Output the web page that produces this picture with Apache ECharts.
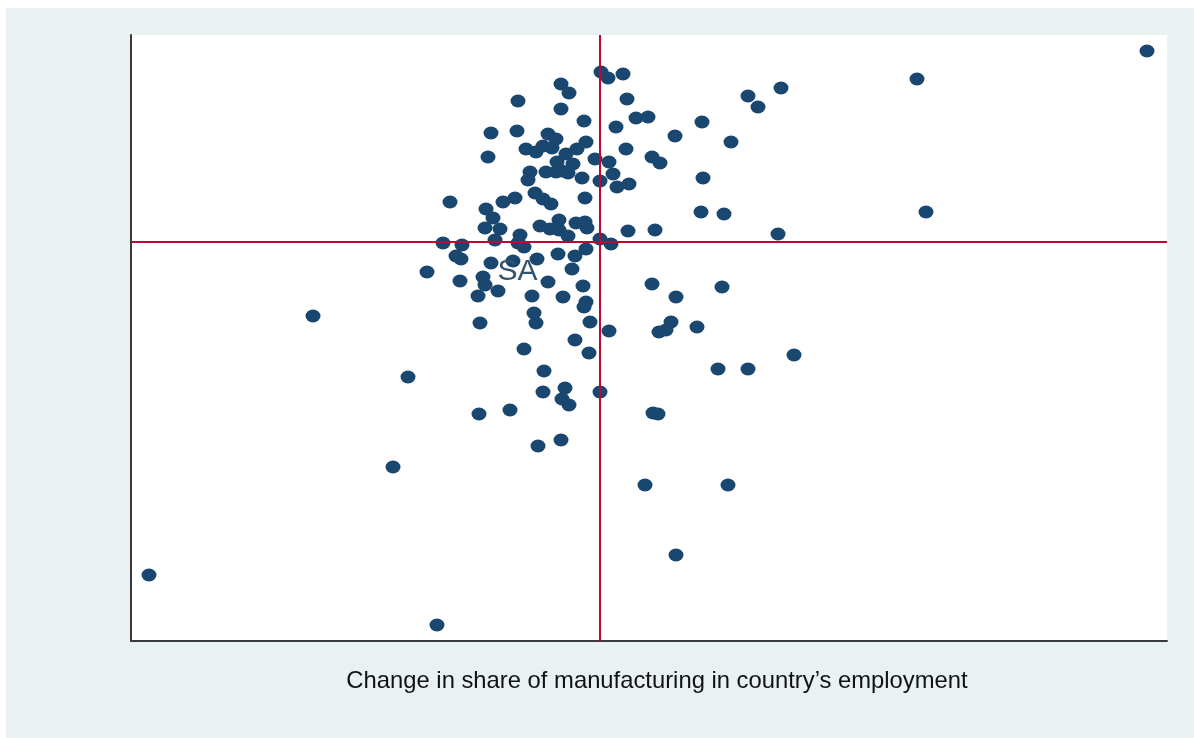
<!DOCTYPE html>
<html>
<head>
<meta charset="utf-8">
<script src="https://cdn.jsdelivr.net/npm/echarts@6/dist/echarts.min.js"></script>
<style>
  html, body { margin: 0; padding: 0; background: #ffffff; }
  #chart { position: absolute; left: 6px; top: 8px; width: 1188px; height: 730px; }
</style>
</head>
<body>
<div id="chart"></div>
<script>
// Change in share of manufacturing (x) vs outcome (y); reference lines at 0
const xValues = [
  5.47, 3.17, 1.81, 1.48, 1.58, 0.01, 0.08, 0.23, -0.39, -0.31,
  0.27, -0.82, -0.39, 0.36, 0.48, -0.16, 0.16, 1.02, -1.09, -0.83,
  0.75, 1.31, -0.52, -0.44, -0.14, -0.74, -0.64, -0.57, -0.48, 0.26,
  -0.23, -1.12, -0.34, -0.05, 0.09, 0.52, 0.60, -0.43, -0.27, -0.54,
  -0.44, -0.38, -0.32, -0.70, -0.72, 0.13, -0.18, 0.00, 0.17, 0.29,
  1.03, -0.65, -0.57, -0.49, -0.85, -0.97, -1.50, -1.14, -1.07, -0.15,
  1.01, 1.24, 3.26, -0.41, -0.60, -0.50, -0.41, -0.24, -0.15, -0.13,
  -1.15, -1.00, -0.32, 0.28, 0.55, -1.05, -0.80, -0.82, -0.76, 0.00,
  0.11, 1.78, -1.57, -1.38, -1.44, -1.39, -0.14, -0.42, -0.25, -0.63,
  -0.87, -1.09, -1.73, -1.17, -0.28, -1.40, -1.15, -0.52, -1.02, -1.22,
  0.52, 0.76, 1.22, -0.17, -0.68, -0.37, -0.14, -0.16, -0.66, -0.64,
  -2.87, -1.20, -0.10, 0.09, 0.71, 0.66, 0.59, 0.97, -0.25, -0.76,
  -0.11, 1.94, 1.18, 1.48, -0.56, -1.92, -0.35, -0.57, -0.38, -0.31,
  0.00, -0.90, -1.21, 0.53, 0.58, -0.39, -0.62, -2.07, 0.45, 1.28,
  0.76, -4.51, -1.63
];
const yValues = [
  1.91, 1.63, 1.54, 1.46, 1.35, 1.70, 1.64, 1.68, 1.58, 1.49,
  1.43, 1.41, 1.33, 1.24, 1.25, 1.21, 1.15, 1.20, 1.09, 1.11,
  1.06, 1.00, 1.08, 1.03, 1.00, 0.93, 0.90, 0.96, 0.94, 0.93,
  0.93, 0.85, 0.88, 0.83, 0.80, 0.85, 0.79, 0.80, 0.78, 0.70,
  0.70, 0.71, 0.69, 0.70, 0.62, 0.68, 0.64, 0.61, 0.55, 0.58,
  0.64, 0.49, 0.43, 0.38, 0.44, 0.40, 0.40, 0.33, 0.24, 0.44,
  0.30, 0.28, 0.30, 0.22, 0.16, 0.13, 0.12, 0.19, 0.20, 0.14,
  0.14, 0.13, 0.06, 0.11, 0.12, 0.02, 0.07, -0.01, -0.05, 0.03,
  -0.02, 0.08, -0.01, -0.03, -0.14, -0.17, -0.07, -0.12, -0.14, -0.17,
  -0.19, -0.21, -0.30, -0.35, -0.27, -0.39, -0.43, -0.40, -0.49, -0.54,
  -0.42, -0.55, -0.45, -0.44, -0.54, -0.55, -0.60, -0.65, -0.71, -0.81,
  -0.74, -0.81, -0.80, -0.89, -0.80, -0.88, -0.90, -0.85, -0.98, -1.07,
  -1.11, -1.13, -1.27, -1.27, -1.29, -1.35, -1.46, -1.50, -1.57, -1.63,
  -1.50, -1.68, -1.72, -1.71, -1.72, -1.98, -2.04, -2.25, -2.43, -2.43,
  -3.13, -3.33, -3.83
];
const labelText = ['SA'];
const labelIndex = [91];
const refX = [0];
const refY = [0];
const xTitle = 'Change in share of manufacturing in country\u2019s employment';
const xRange = [-4.69, 5.67];
const yRange = [-3.99, 2.07];

const MARK = '#1a476f';
const REF = '#c10534';

const points = xValues.map(function (x, i) {
  const k = labelIndex.indexOf(i);
  const item = { value: [x, yValues[i]] };
  if (k >= 0) {
    item.label = {
      show: true,
      formatter: labelText[k],
      position: 'right',
      distance: -1,
      offset: [0, 9],
      color: '#34536f',
      fontSize: 30,
      fontFamily: 'Liberation Sans, Arial, sans-serif'
    };
  }
  return item;
});

const chart = echarts.init(document.getElementById('chart'), null, { renderer: 'canvas' });
chart.setOption({
  backgroundColor: '#e9f1f3',
  animation: false,
  grid: { left: 125, right: 27, top: 27, bottom: 97, show: true, backgroundColor: '#ffffff', borderWidth: 0 },
  xAxis: {
    type: 'value', min: xRange[0], max: xRange[1],
    name: xTitle, nameLocation: 'middle', nameGap: 28,
    nameTextStyle: { color: '#111111', fontSize: 23.8, fontFamily: 'Liberation Sans, Arial, sans-serif', padding: [0, 0, 0, 16] },
    axisLine: { show: true, onZero: false, lineStyle: { color: '#3a3a3a', width: 2 } },
    axisTick: { show: false }, axisLabel: { show: false }, splitLine: { show: false }
  },
  yAxis: {
    type: 'value', min: yRange[0], max: yRange[1],
    axisLine: { show: true, onZero: false, lineStyle: { color: '#3a3a3a', width: 2 } },
    axisTick: { show: false }, axisLabel: { show: false }, splitLine: { show: false }
  },
  series: [{
    type: 'scatter',
    symbol: 'circle',
    symbolSize: [15, 13],
    itemStyle: { color: MARK, opacity: 1 },
    data: points,
    z: 3,
    markLine: {
      silent: true, symbol: 'none', animation: false,
      label: { show: false },
      lineStyle: { color: REF, width: 2, type: 'solid' },
      data: refX.map(function (v) { return { xAxis: v }; }).concat(refY.map(function (v) { return { yAxis: v }; }))
    }
  }]
});
</script>
</body>
</html>
